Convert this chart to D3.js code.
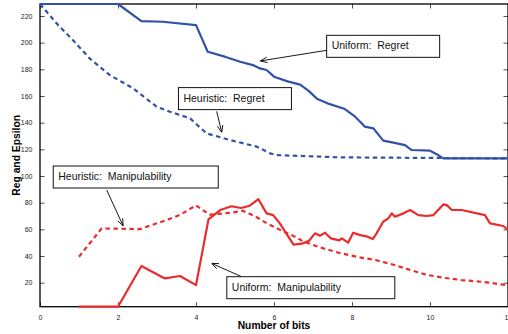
<!DOCTYPE html>
<html>
<head>
<meta charset="utf-8">
<script src="https://cdn.jsdelivr.net/npm/d3@7"></script>
<style>
  body { margin: 0; background: #fff; }
  svg { display: block; font-family: "Liberation Sans", Arial, sans-serif; }
</style>
</head>
<body>
<div id="chart"></div>
<script>
// values: [bits, value]
const uniformRegret = [
  [0, 229], [2.0, 229], [2.6, 216.2], [3.15, 215.7], [4.0, 213.2], [4.3, 193.2],
  [4.74, 189.5], [5.13, 185.7], [5.46, 183.2], [5.64, 180.7], [5.81, 179.5],
  [6.0, 174.5], [6.35, 171], [6.67, 168.5], [6.88, 164], [7.1, 158], [7.37, 154.5],
  [7.8, 150.5], [8.08, 144.5], [8.21, 140.7], [8.33, 137], [8.55, 135.7], [8.8, 126.5],
  [9.06, 125], [9.36, 123.2], [9.53, 119.5], [10.0, 119], [10.21, 115.7], [10.34, 113.2],
  [12, 113.2]
];
const heuristicRegret = [
  [0, 229], [0.47, 213], [0.81, 203], [1.28, 188], [1.79, 175.7], [2.39, 165.7],
  [2.99, 152], [3.33, 148.2], [3.85, 143.2], [4.27, 132], [4.87, 127], [5.56, 122],
  [5.9, 117], [6.07, 115.7], [7.69, 114], [12, 113.2]
];
const heuristicManip = [
  [1, 39.5], [1.58, 60.7], [2.56, 60.2], [3.25, 67], [3.6, 71], [4.0, 78], [4.35, 71],
  [4.9, 72.5], [5.2, 74], [5.5, 70], [5.85, 64], [6.2, 59], [6.5, 55], [6.75, 51],
  [7.18, 46.5], [7.65, 42.5], [8.2, 39], [8.6, 37], [9.06, 33.5], [9.5, 29.5],
  [9.9, 26], [10.4, 23.5], [10.8, 22], [11.4, 20.5], [12, 18]
];
const uniformManip = [
  [1, 2], [2.0, 2], [2.6, 32.5], [3.2, 23.2], [3.59, 25], [4.0, 18.2], [4.32, 67.5],
  [4.62, 74.5], [4.91, 77.3], [5.15, 76], [5.36, 77.5], [5.6, 82.6], [5.81, 72],
  [5.98, 70.7], [6.15, 64.5], [6.5, 48.6], [6.72, 49.3], [6.9, 51.5], [7.05, 57],
  [7.18, 55.3], [7.31, 57.5], [7.46, 53.2], [7.67, 51.7], [7.74, 53.2], [7.9, 50],
  [8.03, 57.5], [8.21, 55.7], [8.4, 54.5], [8.53, 52.7], [8.63, 57], [8.8, 65.7],
  [8.93, 68.2], [9.02, 72], [9.1, 69.5], [9.32, 72], [9.49, 74.5], [9.7, 70.7],
  [9.91, 70], [10.09, 70.7], [10.34, 78.7], [10.43, 78.2], [10.56, 74.5], [10.81, 74.5],
  [11.41, 70.7], [11.54, 64.5], [11.88, 62.5], [12, 59.5]
];

const xTicks = [0, 2, 4, 6, 8, 10, 12];
const yTicks = [20, 40, 60, 80, 100, 120, 140, 160, 180, 200, 220];

// callout labels: text, box corner (data units), arrow from/to (data units)
const labels = [
  { text: "Uniform:  Regret", box: [7.35, 205.5], w: 113, tail: [7.4, 194.5], head: [5.65, 186.3] },
  { text: "Heuristic:  Regret", box: [3.55, 166.3], w: 113, tail: [4.53, 148.5], head: [4.66, 132.7] },
  { text: "Heuristic:  Manipulability", box: [0.34, 107.5], w: 165, tail: [1.71, 89.5], head: [2.13, 62.7] },
  { text: "Uniform:  Manipulability", box: [4.79, 24.5], w: 168, tail: [5.17, 24.5], head: [4.4, 34.5] }
];

const W = 508, H = 334;
const margin = { top: 4, right: 0, bottom: 27.3, left: 40 };
const width = W - margin.left - margin.right;
const height = H - margin.top - margin.bottom;

const svg = d3.select("#chart").append("svg")
  .attr("width", W)
  .attr("height", H);

svg.append("defs").append("marker")
  .attr("id", "arrow")
  .attr("viewBox", "0 0 10 10")
  .attr("refX", 10).attr("refY", 5)
  .attr("markerWidth", 7).attr("markerHeight", 7)
  .attr("markerUnits", "userSpaceOnUse")
  .attr("orient", "auto")
  .append("path")
  .attr("d", "M0,1 L10,5 L0,9")
  .attr("fill", "none")
  .attr("stroke", "#000")
  .attr("stroke-width", 1.2);

const g = svg.append("g")
  .attr("transform", `translate(${margin.left},${margin.top})`);

const x = d3.scaleLinear().domain([0, 12]).range([0, width]);
const y = d3.scaleLinear().domain([2, 229]).range([height, 0]);

// axes, matlab style (ticks inside)
const tickLen = 4.5;
g.append("g")
  .attr("transform", `translate(0,${height})`)
  .call(d3.axisBottom(x).tickValues(xTicks).tickSize(-tickLen).tickPadding(tickLen + 3.5).tickFormat(d3.format("d")))
  .call(a => a.select(".domain").remove());
g.append("g")
  .call(d3.axisTop(x).tickValues(xTicks).tickSize(-tickLen).tickFormat(""))
  .call(a => a.select(".domain").remove());
g.append("g")
  .call(d3.axisLeft(y).tickValues(yTicks).tickSize(-tickLen).tickPadding(tickLen + 3))
  .call(a => a.select(".domain").remove());
g.append("g")
  .attr("transform", `translate(${width},0)`)
  .call(d3.axisRight(y).tickValues(yTicks).tickSize(-tickLen).tickFormat(""))
  .call(a => a.select(".domain").remove());

g.selectAll(".tick line").attr("stroke", "#222").attr("stroke-width", 0.8);
g.selectAll(".tick text")
  .style("font-size", "7px")
  .style("font-family", "'Liberation Sans', Arial, sans-serif")
  .attr("fill", "#222");

g.append("rect")
  .attr("width", width)
  .attr("height", height)
  .attr("fill", "none")
  .attr("stroke", "#000")
  .attr("stroke-width", 1.3);

// lines
const line = d3.line().x(d => x(d[0])).y(d => y(d[1]));
const series = [
  { data: heuristicRegret, color: "#3152a6", dash: "4.5,3.5" },
  { data: uniformRegret, color: "#3152a6", dash: null },
  { data: heuristicManip, color: "#ec2a2c", dash: "4.5,3.5" },
  { data: uniformManip, color: "#ec2a2c", dash: null }
];
g.selectAll("path.series")
  .data(series)
  .enter()
  .append("path")
  .attr("class", "series")
  .attr("d", d => line(d.data))
  .attr("fill", "none")
  .attr("stroke", d => d.color)
  .attr("stroke-width", 2.2)
  .attr("stroke-linejoin", "round")
  .attr("stroke-dasharray", d => d.dash);

// callouts
labels.forEach(l => {
  g.append("line")
    .attr("x1", x(l.tail[0])).attr("y1", y(l.tail[1]))
    .attr("x2", x(l.head[0])).attr("y2", y(l.head[1]))
    .attr("stroke", "#000")
    .attr("stroke-width", 0.9)
    .attr("marker-end", "url(#arrow)");
  const bx = x(l.box[0]), by = y(l.box[1]);
  g.append("rect")
    .attr("x", bx).attr("y", by)
    .attr("width", l.w).attr("height", 22)
    .attr("fill", "#fff")
    .attr("stroke", "#111")
    .attr("stroke-width", 1);
  g.append("text")
    .attr("x", bx + 5).attr("y", by + 14)
    .style("font-size", "10.5px")
    .style("white-space", "pre")
    .attr("fill", "#111")
    .text(l.text);
});

// axis titles
svg.append("text")
  .attr("x", margin.left + width / 2)
  .attr("y", 329)
  .attr("text-anchor", "middle")
  .style("font-size", "10.3px")
  .style("font-weight", "bold")
  .text("Number of bits");

svg.append("text")
  .attr("transform", `translate(19.5,${margin.top + height / 2}) rotate(-90)`)
  .attr("text-anchor", "middle")
  .style("font-size", "10.3px")
  .style("font-weight", "bold")
  .text("Reg and Epsilon");
</script>
</body>
</html>
